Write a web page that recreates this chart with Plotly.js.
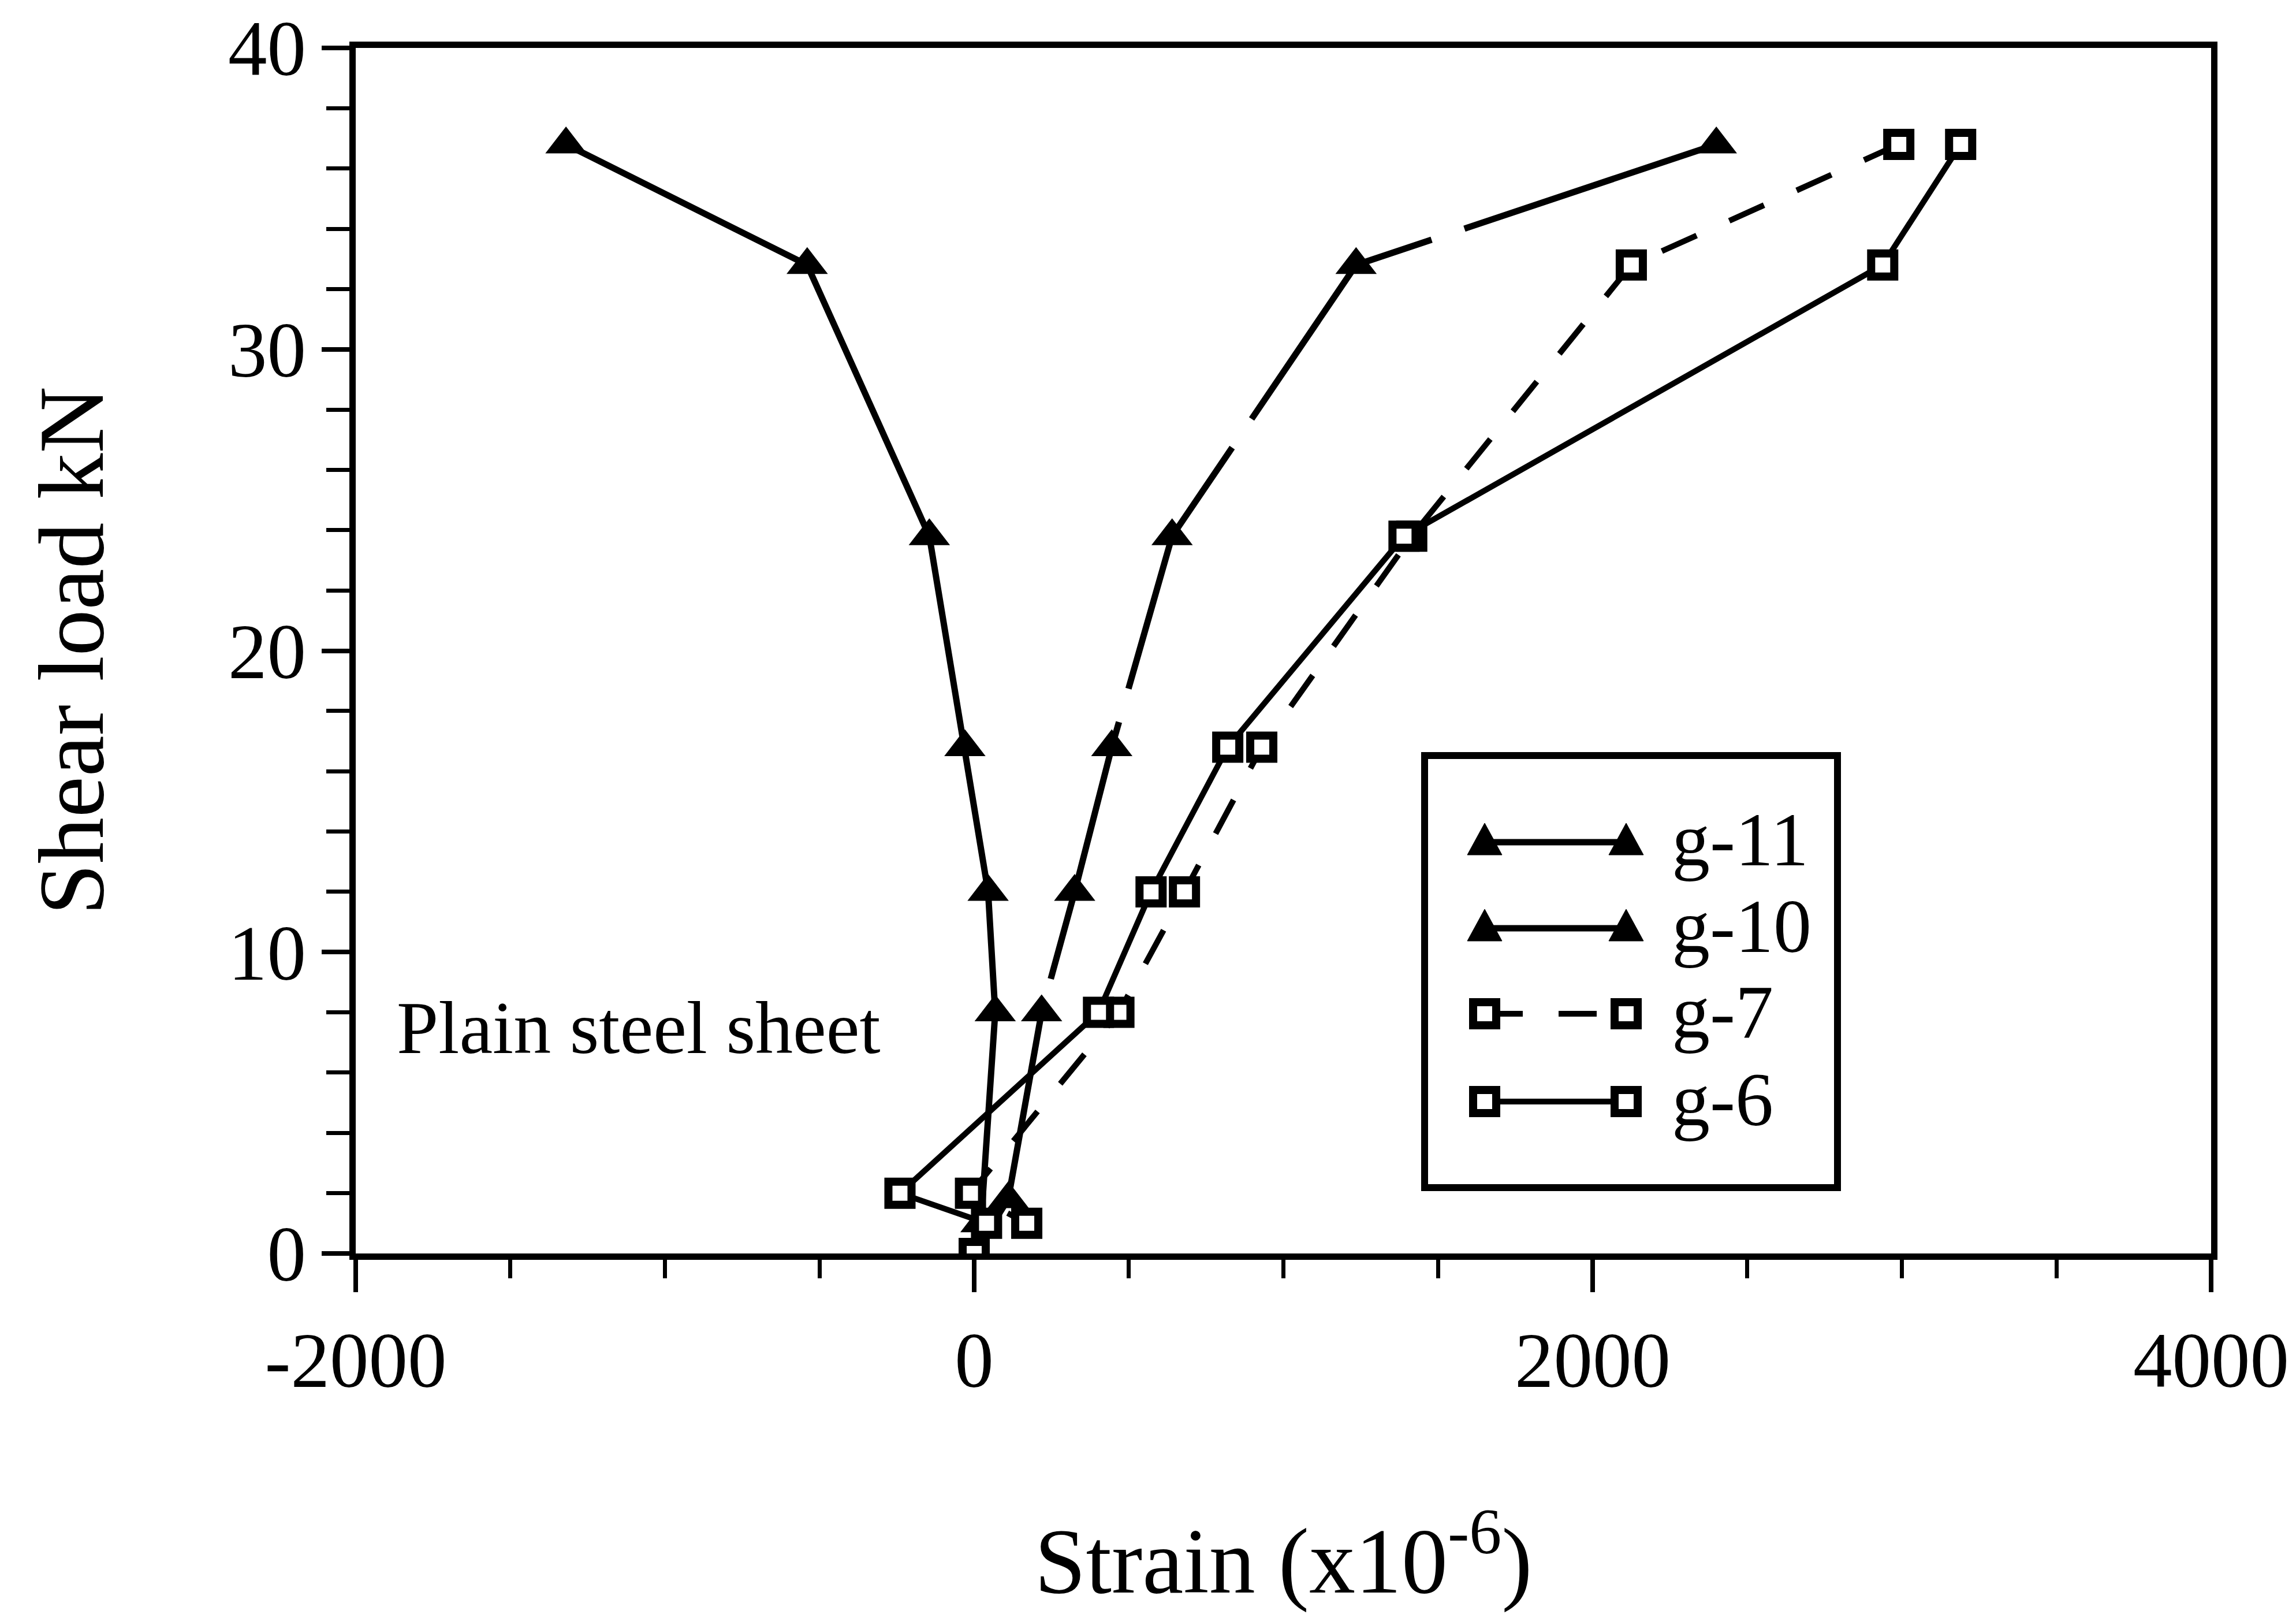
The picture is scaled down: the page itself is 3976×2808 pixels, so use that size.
<!DOCTYPE html>
<html>
<head>
<meta charset="utf-8">
<script src="https://cdn.plot.ly/plotly-3.0.1.min.js"></script>
<style>
  html, body { margin: 0; padding: 0; background: #ffffff; }
  #chart { width: 3976px; height: 2808px; }
</style>
</head>
<body>
<div id="chart"></div>
<script>
// ---- data (strain x10^-6, shear load kN) ----
const g11Strain = [-1320, -540, -145, -30, 45, 68, 22, 0];
const g11Load   = [36.8, 32.8, 23.8, 16.8, 12, 8, 1, 0];

const g10Strain = [2400, 1235, 640, 445, 325, 218, 110, 0];
const g10Load   = [36.8, 32.8, 23.8, 16.8, 12, 8, 1.8, 0];

const g7Strain  = [2990, 2125, 1415, 930, 680, 468, -12, 170, 0];
const g7Load    = [36.8, 32.8, 23.8, 16.8, 12, 8, 2, 1, 0];

const g6Strain  = [3190, 2938, 1390, 820, 572, 402, -240, 40, 0];
const g6Load    = [36.8, 32.8, 23.8, 16.8, 12, 8, 2, 1, 0];

const xTickVals = [-2000, 0, 2000, 4000];
const xTickText = ['-2000', '0', '2000', '4000'];
const yTickVals = [0, 10, 20, 30, 40];
const yTickText = ['0', '10', '20', '30', '40'];

const seriesNames = ['g-11', 'g-10', 'g-7', 'g-6'];
const noteText = 'Plain steel sheet';
const xTitle = 'Strain (x10<sup>-6</sup>)';
const yTitle = 'Shear load kN';

// ---- styling ----
const FONT = 'Liberation Serif, Times New Roman, serif';
const W = 3976, H = 2808;
const M = { l: 616, r: 147, t: 83, b: 638 };
const PW = W - M.l - M.r, PH = H - M.t - M.b;

const tri = { symbol: 'triangle-up', size: 62, color: '#000', line: { width: 0 } };
const sq  = { symbol: 'square', size: 40, color: '#fff', line: { color: '#000', width: 14 } };
const styles = [
  { line: { color: '#000', width: 11 }, marker: tri, kind: 'tri' },
  { line: { color: '#000', width: 11, dash: '460px,60px' }, marker: tri, kind: 'tri' },
  { line: { color: '#000', width: 10, dash: '66px,62px' }, marker: sq, kind: 'sq' },
  { line: { color: '#000', width: 10 }, marker: sq, kind: 'sq' }
];
const xs = [g11Strain, g10Strain, g7Strain, g6Strain];
const ys = [g11Load, g10Load, g7Load, g6Load];

const traces = seriesNames.map((n, i) => ({
  x: xs[i], y: ys[i], name: n, type: 'scatter', mode: 'lines+markers',
  line: styles[i].line, marker: styles[i].marker, showlegend: false
}));

// ---- boxed legend (drawn like the reference: a marker at both ends of the sample) ----
const px2x = p => (p - M.l) / PW;
const px2y = p => (H - M.b - p) / PH;
const shapes = [];
const annotations = [];
const box = { x0: 2467, x1: 3182, y0: 1308, y1: 2056 };
shapes.push({ type: 'rect', xref: 'paper', yref: 'paper',
  x0: px2x(box.x0), x1: px2x(box.x1), y0: px2y(box.y1), y1: px2y(box.y0),
  line: { color: '#000', width: 12 }, fillcolor: '#fff', layer: 'above' });
const rowY = [1458, 1607, 1755, 1907];
const sx0 = 2571, sx1 = 2816, textX = 2893;
seriesNames.forEach((n, i) => {
  const y = rowY[i];
  shapes.push({ type: 'line', xref: 'paper', yref: 'paper',
    x0: px2x(sx0), x1: px2x(sx1), y0: px2y(y), y1: px2y(y),
    line: { color: '#000', width: styles[i].line.width, dash: styles[i].line.dash || 'solid' } });
  [sx0, sx1].forEach(cx => {
    if (styles[i].kind === 'tri') {
      const p = [[cx - 30, y + 22], [cx + 30, y + 22], [cx, y - 33]]
        .map(q => px2x(q[0]).toFixed(5) + ',' + px2y(q[1]).toFixed(5));
      shapes.push({ type: 'path', xref: 'paper', yref: 'paper',
        path: 'M' + p[0] + 'L' + p[1] + 'L' + p[2] + 'Z',
        fillcolor: '#000', line: { color: '#000', width: 1 } });
    } else {
      shapes.push({ type: 'rect', xref: 'paper', yref: 'paper',
        x0: px2x(cx - 20), x1: px2x(cx + 20), y0: px2y(y + 20), y1: px2y(y - 20),
        fillcolor: '#fff', line: { color: '#000', width: 14 } });
    }
  });
  annotations.push({ xref: 'paper', yref: 'paper', x: px2x(textX), y: px2y(y - 4),
    xanchor: 'left', yanchor: 'middle', text: n, showarrow: false,
    font: { family: FONT, size: 132, color: '#000' } });
});

annotations.push({ x: -1871, y: 7.5, xref: 'x', yref: 'y', text: noteText, showarrow: false,
  xanchor: 'left', yanchor: 'middle', font: { family: FONT, size: 130, color: '#000' } });

const layout = {
  width: W, height: H,
  margin: { l: M.l, r: M.r, t: M.t, b: M.b, autoexpand: false },
  paper_bgcolor: '#fff', plot_bgcolor: '#fff',
  font: { family: FONT, color: '#000', size: 130 },
  showlegend: false,
  xaxis: {
    range: [-2000, 4000], tickmode: 'array', tickvals: xTickVals, ticktext: xTickText,
    ticks: 'outside', ticklen: 56, tickwidth: 8, tickcolor: '#000',
    showline: true, linewidth: 11, linecolor: '#000', mirror: true,
    showgrid: false, zeroline: false,
    minor: { dtick: 500, tick0: -2000, ticks: 'outside', ticklen: 32, tickwidth: 7, tickcolor: '#000', showgrid: false },
    tickfont: { family: FONT, size: 135, color: '#000' },
    ticklabelstandoff: 2,
    automargin: true,
    title: { text: xTitle, font: { family: FONT, size: 160, color: '#000' }, standoff: 220 }
  },
  yaxis: {
    range: [0, 40], tickmode: 'array', tickvals: yTickVals, ticktext: yTickText,
    ticks: 'outside', ticklen: 48, tickwidth: 8, tickcolor: '#000',
    showline: true, linewidth: 11, linecolor: '#000', mirror: true,
    showgrid: false, zeroline: false,
    minor: { dtick: 2, tick0: 0, ticks: 'outside', ticklen: 40, tickwidth: 7, tickcolor: '#000', showgrid: false },
    tickfont: { family: FONT, size: 135, color: '#000' },
    ticklabelstandoff: 0,
    automargin: true,
    title: { text: yTitle, font: { family: FONT, size: 160, color: '#000' }, standoff: 167 }
  },
  shapes: shapes,
  annotations: annotations
};

Plotly.newPlot('chart', traces, layout, { displayModeBar: false, staticPlot: true });
</script>
</body>
</html>
